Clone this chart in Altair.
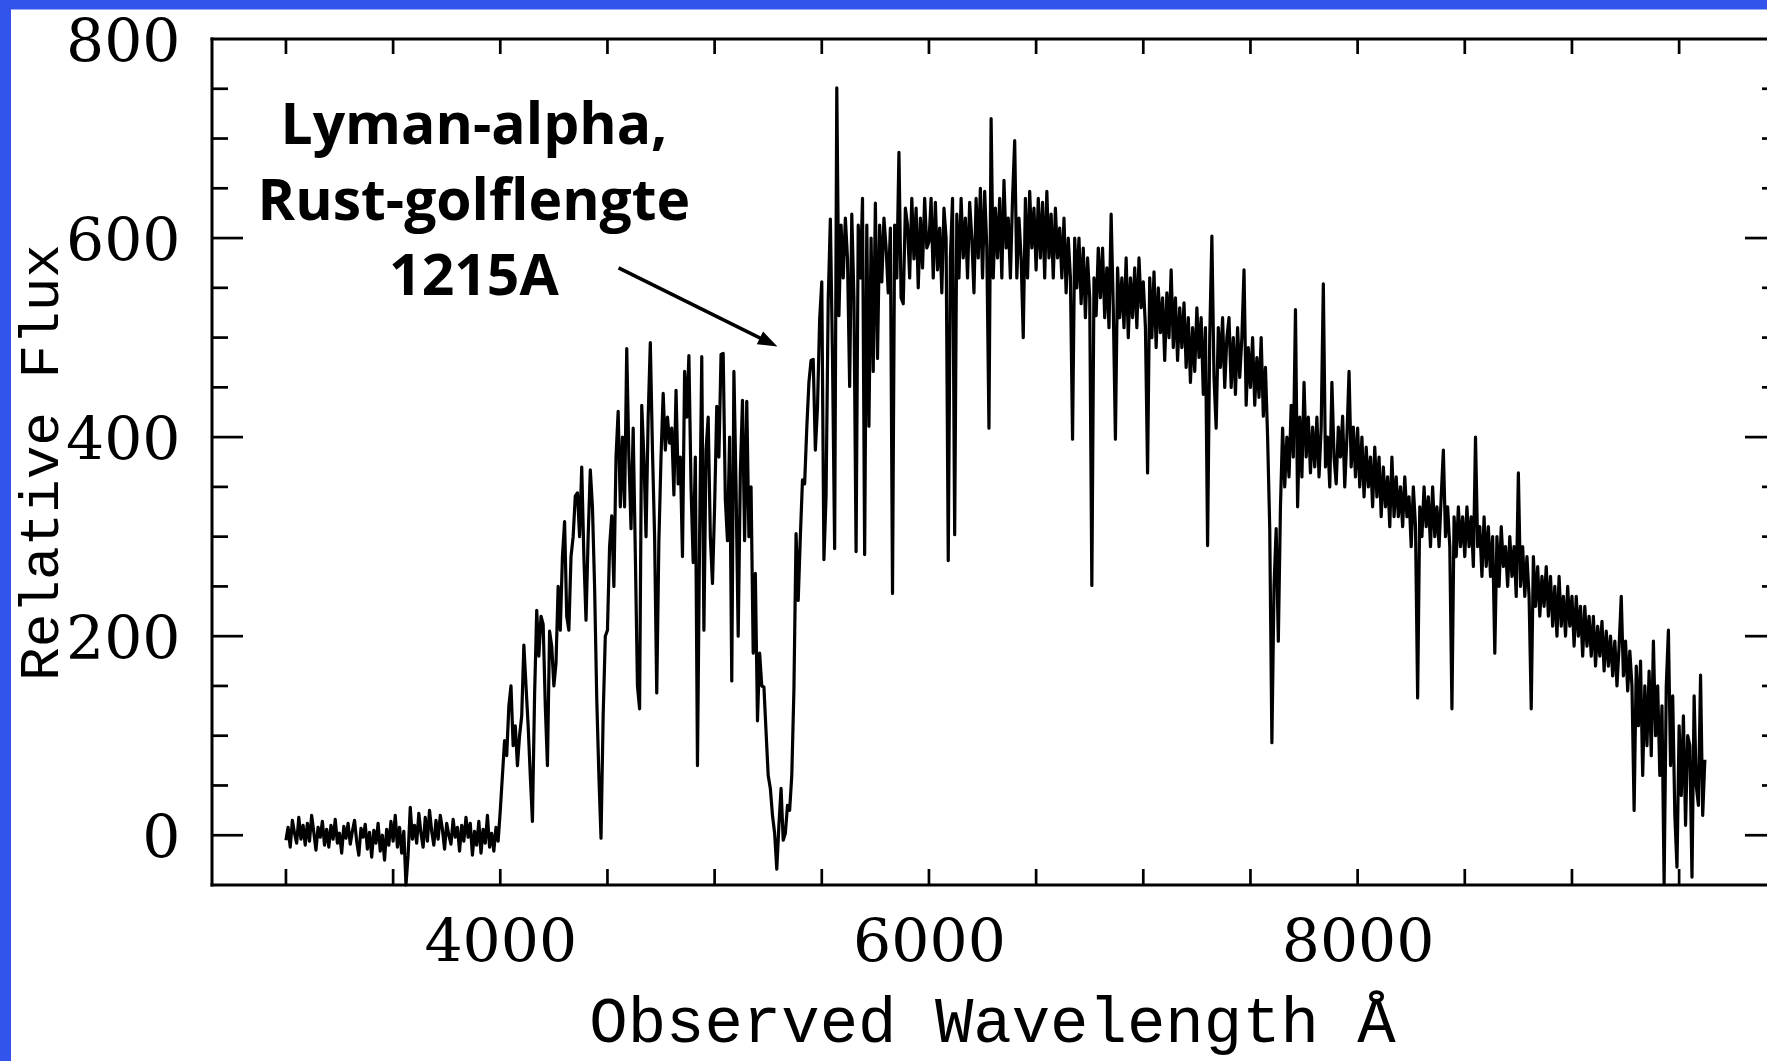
import altair as alt
import pandas as pd

# ---------------------------------------------------------------------------
# Spectrum: relative flux sampled every 10 Å from 3000 Å
# ---------------------------------------------------------------------------
WAVE_START = 3000
WAVE_STEP = 10
FLUX = [
    # 3000-3990
    -5, 8, -12, 15, 2, -8, 18, -4, 10, -10,
    12, -6, 20, 3, -15, 8, -2, 14, -10, 6,
    -12, 10, -4, 16, -8, 2, -18, 9, -3, 12,
    -9, 4, 15, -6, -20, 7, -2, 11, -14, 3,
    -22, 5, -8, 12, -16, 0, -25, 6, -10, 14,
    -6, 20, -12, 8, -18, 4, -50, -20, 28, -4,
    10, -8, 22, 2, -12, 18, -6, 25, 4, -10,
    15, -4, 20, 6, -14, 12, 0, -9, 16, -2,
    8, -16, 10, -6, 18, -2, 12, -20, 4, -10,
    14, -18, 6, -8, 20, -12, 2, -16, 8, -6,
    # 4000-4990
    25, 60, 95, 80, 130, 150, 90, 110, 70, 100,
    120, 191, 150, 110, 60, 14, 140, 226, 180, 220,
    212, 130, 70, 205, 190, 150, 173, 250, 206, 280,
    315, 220, 206, 280, 300, 341, 344, 300, 370, 280,
    216, 300, 367, 330, 250, 138, 60, -3, 120, 200,
    206, 290, 321, 250, 380, 426, 330, 400, 330, 489,
    380, 308, 409, 283, 150, 127, 432, 380, 300, 420,
    495, 387, 300, 143, 296, 380, 444, 387, 420, 394,
    409, 342, 447, 353, 380, 280, 466, 420, 482, 350,
    274, 380, 70, 300, 481, 206, 387, 420, 300, 253,
    # 5000-5990
    330, 431, 380, 483, 484, 337, 296, 400, 155, 466,
    350, 200, 364, 437, 296, 436, 300, 350, 183, 263,
    115, 183, 150, 149, 104, 60, 47, 20, 2, -34,
    10, 47, -5, 2, 30, 25, 60, 146, 303, 236,
    300, 357, 353, 409, 455, 477, 478, 387, 430, 518,
    556, 277, 341, 538, 619, 480, 288, 751, 522, 613,
    560, 620, 579, 451, 624, 540, 285, 613, 560, 640,
    282, 613, 411, 600, 466, 635, 479, 613, 556, 620,
    590, 545, 610, 243, 613, 560, 686, 540, 534, 630,
    613, 560, 640, 579, 630, 550, 620, 570, 640, 590,
    # 6000-6990
    596, 640, 560, 636, 568, 610, 545, 630, 600, 276,
    580, 640, 302, 624, 560, 640, 580, 620, 560, 636,
    600, 545, 640, 580, 650, 560, 647, 590, 409, 720,
    560, 630, 580, 640, 560, 658, 590, 620, 560, 640,
    698, 560, 620, 580, 500, 640, 560, 647, 590, 630,
    568, 640, 580, 636, 560, 647, 580, 624, 560, 630,
    580, 610, 560, 620, 545, 600, 560, 398, 600, 550,
    600, 534, 590, 520, 580, 540, 251, 560, 522, 590,
    540, 590, 520, 570, 510, 624, 530, 398, 570, 520,
    560, 510, 580, 500, 560, 520, 570, 510, 580, 530,
    # 7000-7990
    556, 510, 364, 560, 500, 566, 490, 550, 505, 540,
    477, 545, 500, 568, 490, 540, 477, 530, 490, 535,
    470, 520, 455, 510, 466, 530, 480, 520, 443, 510,
    291, 500, 602, 460, 409, 510, 470, 520, 450, 500,
    520, 450, 500, 443, 510, 460, 500, 568, 432, 490,
    450, 500, 432, 480, 440, 500, 421, 470, 400, 308,
    93, 250, 308, 195, 330, 409, 350, 400, 360, 432,
    380, 528, 330, 420, 360, 455, 380, 420, 364, 410,
    370, 420, 360, 410, 554, 370, 400, 350, 455, 380,
    353, 410, 380, 421, 350, 400, 466, 370, 410, 360,
    # 8000-8990
    409, 350, 400, 340, 390, 350, 380, 330, 390, 340,
    380, 320, 370, 330, 360, 310, 380, 320, 360, 320,
    350, 310, 360, 320, 340, 290, 350, 310, 138, 330,
    300, 350, 310, 340, 290, 350, 300, 330, 290, 340,
    387, 300, 330, 290, 127, 320, 280, 330, 290, 320,
    280, 330, 290, 320, 270, 400, 290, 310, 260, 320,
    270, 310, 260, 300, 183, 300, 250, 310, 270, 290,
    250, 300, 260, 290, 240, 364, 250, 290, 240, 280,
    240, 127, 280, 230, 270, 220, 260, 230, 270, 220,
    260, 210, 250, 200, 260, 210, 240, 200, 250, 210,
    # 9000-9620
    240, 190, 240, 200, 230, 180, 230, 190, 220, 180,
    220, 170, 210, 180, 215, 165, 205, 170, 200, 160,
    195, 150, 190, 240, 160, 195, 145, 185, 150, 25,
    170, 110, 175, 60, 150, 90, 165, 80, 195, 100,
    150, 60, 130, -49, 150, 206, 70, 140, 20, -32,
    110, 40, 120, 10, 100, 90, -42, 140, 50, 30,
    161, 20, 76,
]
WAVELENGTH = [WAVE_START + WAVE_STEP * i for i in range(len(FLUX))]

# Axis ticks and labels
X_LABELS = [4000, 6000, 8000]
X_TICKS = [3000, 3500, 4000, 4500, 5000, 5500, 6000, 6500, 7000, 7500, 8000, 8500, 9000, 9500]
Y_LABELS = [0, 200, 400, 600, 800]
Y_MAJOR_TICKS = [0, 200, 400, 600]
Y_MINOR_TICKS = [50, 100, 150, 250, 300, 350, 450, 500, 550, 650, 700, 750]

# Annotation of the Lyman-alpha break
NOTE_LINES = ["Lyman-alpha,", "Rust-golflengte", "1215A"]
NOTE_WAVE = 3877
NOTE_FLUX = [695, 618, 543]
ARROW_FROM = (4552, 570)
ARROW_TO = (5293, 491)

# Layout
PLOT_W, PLOT_H = 1555, 846
PAD = {"left": 212, "top": 39, "right": 0, "bottom": 176}
MONO = "Liberation Mono"
NUM_FONT = "DejaVu Serif"
BLUE = "#3254EB"

x_scale = alt.Scale(domain=[2655, 9910], nice=False, zero=False)
y_scale = alt.Scale(domain=[-50, 800], nice=False, zero=False)

spec_df = pd.DataFrame({"wavelength": WAVELENGTH, "flux": FLUX})
one = pd.DataFrame({"k": [0]})

spectrum = alt.Chart(spec_df).mark_line(
    color="black", strokeWidth=3.2, strokeJoin="round"
).encode(
    x=alt.X(
        "wavelength:Q",
        scale=x_scale,
        axis=alt.Axis(
            values=X_LABELS, format="d", domain=False, ticks=False, tickSize=0,
            grid=False, labelFont=NUM_FONT, labelFontSize=60, labelColor="black",
            labelPadding=76, labelBaseline="alphabetic", labelFlush=False,
            labelOverlap=False, title="Observed Wavelength Å", titleFont=MONO,
            titleFontSize=64, titleFontWeight="normal", titleColor="black",
            titleX=780, titleY=156, titleAlign="center", titleBaseline="alphabetic",
        ),
    ),
    y=alt.Y(
        "flux:Q",
        scale=y_scale,
        axis=alt.Axis(
            values=Y_LABELS, format="d", domain=False, ticks=False, tickSize=0,
            grid=False, labelFont=NUM_FONT, labelFontSize=60, labelColor="black",
            labelPadding=32, labelAlign="right", labelBaseline="alphabetic",
            labelOffset=22, labelFlush=False, labelOverlap=False,
            title="Relative Flux", titleFont=MONO, titleFontSize=56,
            titleFontWeight="normal", titleColor="black", titleAngle=270,
            titleX=-155, titleY=423, titleAlign="center", titleBaseline="alphabetic",
        ),
    ),
)

# Blue slide border along the left and top edges
border_left = alt.Chart(one).mark_rect(color=BLUE).encode(
    x=alt.value(-PAD["left"]), x2=alt.value(-PAD["left"] + 11),
    y=alt.value(-PAD["top"]), y2=alt.value(PLOT_H + PAD["bottom"]),
)
border_top = alt.Chart(one).mark_rect(color=BLUE).encode(
    x=alt.value(-PAD["left"]), x2=alt.value(PLOT_W),
    y=alt.value(-PAD["top"]), y2=alt.value(-PAD["top"] + 9.5),
)

# Plot frame (left, top, bottom)
frame_kw = dict(color="black", strokeWidth=3, strokeCap="square")
frame_left = alt.Chart(one).mark_rule(**frame_kw).encode(
    x=alt.value(0), y=alt.value(0), y2=alt.value(PLOT_H))
frame_top = alt.Chart(one).mark_rule(**frame_kw).encode(
    x=alt.value(0), x2=alt.value(PLOT_W), y=alt.value(0))
frame_bottom = alt.Chart(one).mark_rule(**frame_kw).encode(
    x=alt.value(0), x2=alt.value(PLOT_W), y=alt.value(PLOT_H))

# Inward-pointing tick marks (share the spectrum's scales and axes)
tick_kw = dict(color="black", strokeWidth=2.7)
xt = pd.DataFrame({"wavelength": X_TICKS})
x_ticks_bottom = alt.Chart(xt).mark_rule(**tick_kw).encode(
    x=alt.X("wavelength:Q", scale=x_scale),
    y=alt.value(PLOT_H), y2=alt.value(PLOT_H - 16))
x_ticks_top = alt.Chart(xt).mark_rule(**tick_kw).encode(
    x=alt.X("wavelength:Q", scale=x_scale),
    y=alt.value(0), y2=alt.value(15))

ymaj = pd.DataFrame({"flux": Y_MAJOR_TICKS})
ymin = pd.DataFrame({"flux": Y_MINOR_TICKS})
y_major_left = alt.Chart(ymaj).mark_rule(**tick_kw).encode(
    y=alt.Y("flux:Q", scale=y_scale), x=alt.value(0), x2=alt.value(31))
y_minor_left = alt.Chart(ymin).mark_rule(**tick_kw).encode(
    y=alt.Y("flux:Q", scale=y_scale), x=alt.value(0), x2=alt.value(16))
y_major_right = alt.Chart(ymaj).mark_rule(**tick_kw).encode(
    y=alt.Y("flux:Q", scale=y_scale), x=alt.value(PLOT_W - 22), x2=alt.value(PLOT_W))
y_minor_right = alt.Chart(ymin).mark_rule(**tick_kw).encode(
    y=alt.Y("flux:Q", scale=y_scale), x=alt.value(PLOT_W - 5), x2=alt.value(PLOT_W))

# Annotation text
note_df = pd.DataFrame({
    "line": NOTE_LINES,
    "wavelength": [NOTE_WAVE] * len(NOTE_LINES),
    "flux": NOTE_FLUX,
})
note = alt.Chart(note_df).mark_text(
    font="Open Sans", fontWeight="bold", fontSize=57, color="black",
    align="center", baseline="alphabetic",
).encode(
    x=alt.X("wavelength:Q", scale=x_scale),
    y=alt.Y("flux:Q", scale=y_scale),
    text="line:N",
)

# Arrow pointing at the break
shaft_frac = 0.915
shaft_df = pd.DataFrame({
    "wavelength": [ARROW_FROM[0]],
    "flux": [ARROW_FROM[1]],
    "w2": [ARROW_FROM[0] + shaft_frac * (ARROW_TO[0] - ARROW_FROM[0])],
    "f2": [ARROW_FROM[1] + shaft_frac * (ARROW_TO[1] - ARROW_FROM[1])],
})
shaft = alt.Chart(shaft_df).mark_rule(color="black", strokeWidth=3.6).encode(
    x=alt.X("wavelength:Q", scale=x_scale),
    y=alt.Y("flux:Q", scale=y_scale),
    x2="w2:Q", y2="f2:Q",
)
head_df = pd.DataFrame({"wavelength": [ARROW_TO[0]], "flux": [ARROW_TO[1]]})
head = alt.Chart(head_df).mark_point(
    shape="M0,0L-2,-0.72L-2,0.72Z", filled=True, fill="black",
    strokeWidth=0, size=380, angle=26.3, opacity=1,
).encode(
    x=alt.X("wavelength:Q", scale=x_scale),
    y=alt.Y("flux:Q", scale=y_scale),
)

chart = alt.layer(
    spectrum, border_left, border_top,
    frame_left, frame_top, frame_bottom,
    x_ticks_bottom, x_ticks_top,
    y_major_left, y_minor_left, y_major_right, y_minor_right,
    note, shaft, head,
).properties(
    width=PLOT_W,
    height=PLOT_H,
    padding=PAD,
    autosize=alt.AutoSizeParams(type="none"),
    background="white",
).configure_view(stroke=None)

chart.save("out.html", embed_options={"renderer": "svg", "actions": False})
